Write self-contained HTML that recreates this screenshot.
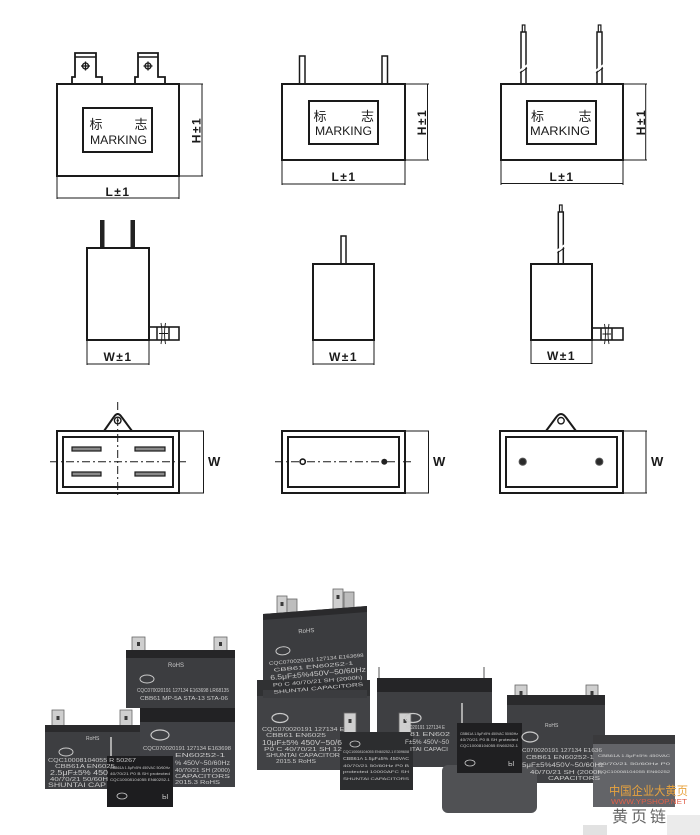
<!DOCTYPE html>
<html>
<head>
<meta charset="utf-8">
<style>
html,body{margin:0;padding:0;background:#fff;}
svg{display:block;}
.f{font-family:"Liberation Sans","Noto Sans CJK SC",sans-serif;}
.cj{font-family:"Liberation Sans","Noto Sans CJK SC",sans-serif;}
</style>
</head>
<body>
<svg width="700" height="835" viewBox="0 0 700 835" xmlns="http://www.w3.org/2000/svg" class="f">
<rect width="700" height="835" fill="#fff"/>

<!-- ===== Row 1 ===== -->
<g stroke="#1a1a1a" fill="none">
  <path d="M72,84 V77 H75 V53 H96 V77 H102 V84" stroke-width="1.8" fill="#fff"/>
  <line x1="75" y1="57" x2="96" y2="57" stroke-width="1.5"/>
  <circle cx="85.5" cy="66" r="3" stroke-width="1.3"/>
  <line x1="81" y1="66" x2="90" y2="66" stroke-width="1.3"/>
  <line x1="85.5" y1="61.5" x2="85.5" y2="70.5" stroke-width="1.3"/>
  <path d="M135,84 V77 H138 V53 H158 V77 H165 V84" stroke-width="1.8" fill="#fff"/>
  <line x1="138" y1="57" x2="158" y2="57" stroke-width="1.5"/>
  <circle cx="148" cy="66" r="3" stroke-width="1.3"/>
  <line x1="143.5" y1="66" x2="152.5" y2="66" stroke-width="1.3"/>
  <line x1="148" y1="61.5" x2="148" y2="70.5" stroke-width="1.3"/>
  <rect x="57" y="84" width="122" height="92" stroke-width="2"/>
  <rect x="83" y="108" width="69" height="44" stroke-width="2"/>
  <path d="M179,84 H203 M179,176 H203 M202,84 V176" stroke-width="1"/>
  <path d="M57,176 V199 M179,176 V199 M57,198 H179" stroke-width="1"/>

  <rect x="299.5" y="56" width="5.5" height="28" stroke-width="1.5" fill="#fff"/>
  <rect x="382" y="56" width="5.5" height="28" stroke-width="1.5" fill="#fff"/>
  <rect x="282" y="84" width="123" height="76" stroke-width="2"/>
  <rect x="309" y="101" width="69" height="43" stroke-width="2"/>
  <path d="M405,84 H429 M405,160 H429 M427.5,84 V160" stroke-width="1"/>
  <path d="M282,160 V185 M405,160 V185 M282,184 H405" stroke-width="1"/>

  <rect x="522.3" y="25" width="2.6" height="8" stroke-width="1.2" fill="#fff"/>
  <rect x="521" y="32" width="5" height="52" stroke-width="1.5" fill="#fff"/>
  <rect x="598.3" y="25" width="2.6" height="8" stroke-width="1.2" fill="#fff"/>
  <rect x="597" y="32" width="5" height="52" stroke-width="1.5" fill="#fff"/>
  <rect x="501" y="84" width="122" height="76" stroke-width="2"/>
  <rect x="527" y="101" width="69" height="43" stroke-width="2"/>
  <path d="M623,84 H647 M623,160 H647 M645.7,84 V160" stroke-width="1"/>
  <path d="M501,160 V185 M623,160 V185 M501,183.5 H623" stroke-width="1"/>
</g>
<g stroke="#fff" stroke-width="2">
  <line x1="519.5" y1="71" x2="527.5" y2="65"/>
  <line x1="595.5" y1="71" x2="603.5" y2="65"/>
</g>
<g stroke="#1a1a1a" stroke-width="1">
  <line x1="520" y1="73" x2="527" y2="68"/>
  <line x1="596" y1="73" x2="603" y2="68"/>
</g>

<g fill="#1a1a1a">
  <text class="cj" x="96" y="129" font-size="13" text-anchor="middle">标</text>
  <text class="cj" x="141" y="129" font-size="13" text-anchor="middle">志</text>
  <text x="90" y="144" font-size="11.5" textLength="57" lengthAdjust="spacingAndGlyphs">MARKING</text>

  <text class="cj" x="320" y="121" font-size="13" text-anchor="middle">标</text>
  <text class="cj" x="367.5" y="121" font-size="13" text-anchor="middle">志</text>
  <text x="315" y="135" font-size="11.5" textLength="57" lengthAdjust="spacingAndGlyphs">MARKING</text>

  <text class="cj" x="537.5" y="121" font-size="13" text-anchor="middle">标</text>
  <text class="cj" x="585" y="121" font-size="13" text-anchor="middle">志</text>
  <text x="530" y="135" font-size="11.5" textLength="60" lengthAdjust="spacingAndGlyphs">MARKING</text>

  <text x="118" y="196" font-size="12" font-weight="bold" text-anchor="middle" letter-spacing="1.5">L±1</text>
  <text x="344" y="181" font-size="12" font-weight="bold" text-anchor="middle" letter-spacing="1.5">L±1</text>
  <text x="562" y="181" font-size="12" font-weight="bold" text-anchor="middle" letter-spacing="1.5">L±1</text>

  <text transform="translate(200.5,130) rotate(-90)" font-size="12" font-weight="bold" text-anchor="middle" letter-spacing="1.5">H±1</text>
  <text transform="translate(426,122) rotate(-90)" font-size="12" font-weight="bold" text-anchor="middle" letter-spacing="1.5">H±1</text>
  <text transform="translate(645,122) rotate(-90)" font-size="12" font-weight="bold" text-anchor="middle" letter-spacing="1.5">H±1</text>
</g>

<!-- ===== Row 2 ===== -->
<g stroke="#1a1a1a" fill="none">
  <rect x="100" y="220" width="4.5" height="28" fill="#222" stroke="none"/>
  <rect x="130.5" y="220" width="4.5" height="28" fill="#222" stroke="none"/>
  <rect x="87" y="248" width="62" height="92" stroke-width="2"/>
  <rect x="149" y="327" width="30" height="13" stroke-width="1.6"/>
  <line x1="157" y1="327" x2="157" y2="340" stroke-width="1.5"/>
  <line x1="169" y1="327" x2="169" y2="340" stroke-width="1.5"/>
  <path d="M161,323 Q163,333.5 161,344 M165.5,323 Q163.5,333.5 165.5,344 M159,333.5 H168" stroke-width="0.9"/>
  <path d="M87,340 V365 M149,340 V365 M87,364 H149" stroke-width="1"/>

  <rect x="341" y="236" width="5" height="28" stroke-width="1.5" fill="#fff"/>
  <rect x="313" y="264" width="61" height="76" stroke-width="2"/>
  <path d="M313,340 V365 M374,340 V365 M313,364 H374" stroke-width="1"/>

  <rect x="559.5" y="205" width="2.6" height="8" stroke-width="1.2" fill="#fff"/>
  <rect x="558.3" y="212" width="5" height="52" stroke-width="1.5" fill="#fff"/>
  <rect x="531" y="264" width="61" height="76" stroke-width="2"/>
  <rect x="592" y="328" width="31" height="12" stroke-width="1.6"/>
  <line x1="601" y1="328" x2="601" y2="340" stroke-width="1.5"/>
  <line x1="612" y1="328" x2="612" y2="340" stroke-width="1.5"/>
  <path d="M604.5,324 Q606.5,334 604.5,344 M609,324 Q607,334 609,344 M602.5,334 H611" stroke-width="0.9"/>
  <path d="M531,340 V364 M592,340 V364 M531,363.5 H592" stroke-width="1"/>
</g>
<line x1="556.8" y1="251" x2="564.8" y2="245" stroke="#fff" stroke-width="2"/>
<line x1="557.3" y1="253" x2="564.3" y2="248" stroke="#1a1a1a" stroke-width="1"/>

<g fill="#1a1a1a">
  <text x="118" y="361" font-size="12" font-weight="bold" text-anchor="middle" letter-spacing="1.5">W±1</text>
  <text x="343.5" y="361" font-size="12" font-weight="bold" text-anchor="middle" letter-spacing="1.5">W±1</text>
  <text x="561.5" y="360" font-size="12" font-weight="bold" text-anchor="middle" letter-spacing="1.5">W±1</text>
</g>

<!-- ===== Row 3 ===== -->
<g stroke="#1a1a1a" fill="none">
  <path d="M104,431 L113.5,417.5 Q117.7,410.5 122,417.5 L132,431" stroke-width="2" fill="#fff"/>
  <circle cx="117.7" cy="420.5" r="3.3" stroke-width="1.4"/>
  <circle cx="117.7" cy="420.5" r="1.2" fill="#1a1a1a" stroke="none"/>
  <rect x="57" y="431" width="122" height="62" stroke-width="2"/>
  <rect x="63" y="437" width="110" height="50" stroke-width="2"/>
  <rect x="72" y="447" width="29" height="4" fill="#8a8a8a" stroke-width="1.2"/>
  <rect x="135" y="447" width="30" height="4" fill="#8a8a8a" stroke-width="1.2"/>
  <rect x="72" y="472" width="29" height="4" fill="#8a8a8a" stroke-width="1.2"/>
  <rect x="135" y="472" width="30" height="4" fill="#8a8a8a" stroke-width="1.2"/>
  <line x1="50" y1="461.7" x2="187" y2="461.7" stroke-width="1" stroke-dasharray="8,3,2,3"/>
  <line x1="117.7" y1="402" x2="117.7" y2="496" stroke-width="1" stroke-dasharray="8,3,2,3"/>
  <path d="M179,431 H204 M179,493 H204 M203.5,431 V493" stroke-width="1"/>

  <rect x="282" y="431" width="123" height="62" stroke-width="2"/>
  <rect x="288" y="437" width="111" height="50" stroke-width="2"/>
  <line x1="275" y1="461.7" x2="413" y2="461.7" stroke-width="1" stroke-dasharray="8,3,2,3"/>
  <circle cx="302.7" cy="461.7" r="2.6" stroke-width="1.6" fill="#fff"/>
  <circle cx="384.3" cy="461.7" r="3" fill="#222" stroke="none"/>
  <path d="M405,431 H429 M405,493 H429 M428.5,431 V493" stroke-width="1"/>

  <path d="M546,431 L556,417.5 Q561,410.5 566,417.5 L576,431" stroke-width="2" fill="#fff"/>
  <circle cx="561" cy="420.7" r="3.2" stroke-width="1.4"/>
  <rect x="500" y="431" width="123" height="62" stroke-width="2"/>
  <rect x="506" y="437" width="111" height="50" stroke-width="2"/>
  <circle cx="522.7" cy="461.7" r="3.6" fill="#2a2a2a" stroke="#555" stroke-width="1"/>
  <circle cx="599.3" cy="461.7" r="3.6" fill="#2a2a2a" stroke="#555" stroke-width="1"/>
  <path d="M623,431 H647 M623,493 H647 M646,431 V493" stroke-width="1"/>
</g>
<g fill="#1a1a1a" font-size="13" font-weight="bold">
  <text x="208" y="466">W</text>
  <text x="433" y="466">W</text>
  <text x="651" y="466">W</text>
</g>

<!-- ===== Photo ===== -->
<g>
  <!-- E tall back -->
  <rect x="277" y="596" width="10" height="20" fill="#cfcfcf" stroke="#666" stroke-width="0.8"/>
  <rect x="287" y="599" width="10" height="20" fill="#bdbdbd" stroke="#666" stroke-width="0.8"/>
  <rect x="333" y="589" width="10" height="20" fill="#cfcfcf" stroke="#666" stroke-width="0.8"/>
  <rect x="344" y="592" width="10" height="20" fill="#bdbdbd" stroke="#666" stroke-width="0.8"/>
  <polygon points="263,614 367,606 367,698 263,698" fill="#3b3c3f"/>
  <polygon points="263,614 367,606 367,612 263,620" fill="#2a2a2c"/>
  <!-- A back-left -->
  <rect x="132" y="637" width="13" height="18" fill="#cfcfcf" stroke="#666" stroke-width="0.8"/>
  <rect x="214" y="637" width="13" height="18" fill="#cfcfcf" stroke="#666" stroke-width="0.8"/>
  <rect x="126" y="650" width="109" height="58" fill="#3c3d40"/>
  <rect x="126" y="650" width="109" height="8" fill="#252527"/>
  <!-- F big center -->
  <rect x="257" y="680" width="113" height="90" fill="#414245"/>
  <rect x="257" y="680" width="113" height="16" fill="#303133"/>
  <rect x="263" y="690" width="104" height="8" fill="#3b3c3f"/>
  <!-- G -->
  <rect x="378" y="667" width="2" height="14" fill="#aaa"/>
  <rect x="483" y="667" width="2" height="14" fill="#aaa"/>
  <rect x="377" y="678" width="115" height="89" fill="#3e3f42"/>
  <rect x="377" y="678" width="115" height="14" fill="#252527"/>
  <!-- K -->
  <rect x="515" y="685" width="12" height="22" fill="#cfcfcf" stroke="#666" stroke-width="0.8"/>
  <rect x="586" y="685" width="12" height="22" fill="#cfcfcf" stroke="#666" stroke-width="0.8"/>
  <rect x="507" y="697" width="98" height="86" fill="#3f4043"/>
  <rect x="507" y="695" width="98" height="10" fill="#2a2a2c"/>
  <!-- C -->
  <rect x="140" y="708" width="95" height="79" fill="#404145"/>
  <rect x="140" y="708" width="95" height="14" fill="#222224"/>
  <!-- B -->
  <rect x="52" y="710" width="12" height="20" fill="#cfcfcf" stroke="#666" stroke-width="0.8"/>
  <rect x="120" y="710" width="12" height="20" fill="#cfcfcf" stroke="#666" stroke-width="0.8"/>
  <rect x="45" y="727" width="95" height="62" fill="#3d3e41"/>
  <rect x="45" y="725" width="95" height="7" fill="#2a2a2c"/>
  <!-- H -->
  <rect x="344" y="713" width="12" height="22" fill="#cfcfcf" stroke="#666" stroke-width="0.8"/>
  <rect x="399" y="713" width="12" height="22" fill="#cfcfcf" stroke="#666" stroke-width="0.8"/>
  <rect x="340" y="732" width="73" height="58" fill="#2c2d2f"/>
  <!-- L right gray -->
  <rect x="593" y="737" width="82" height="70" fill="#636468"/>
  <rect x="593" y="735" width="82" height="9" fill="#3a3a3c"/>
  <!-- J gray flat -->
  <rect x="442" y="765" width="95" height="48" rx="6" fill="#505154"/>
  <!-- I small black -->
  <rect x="461" y="703" width="2" height="22" fill="#aaa"/>
  <rect x="457" y="723" width="65" height="50" fill="#1f1f21"/>
  <!-- D small black -->
  <rect x="110" y="737" width="2" height="20" fill="#aaa"/>
  <rect x="107" y="756" width="66" height="51" fill="#1d1d1f"/>
  <!-- terminal holes -->
  <g fill="#3a3a3a">
    <rect x="280.5" y="602" width="3" height="4"/>
    <rect x="336.5" y="595" width="3" height="4"/>
    <rect x="137" y="642" width="3" height="4"/>
    <rect x="219" y="642" width="3" height="4"/>
    <rect x="519.5" y="691" width="3" height="4"/>
    <rect x="590.5" y="691" width="3" height="4"/>
    <rect x="56.5" y="716" width="3" height="4"/>
    <rect x="124.5" y="716" width="3" height="4"/>
    <rect x="348.5" y="719" width="3" height="4"/>
    <rect x="403.5" y="719" width="3" height="4"/>
  </g>
</g>

<!-- photo label texts -->
<g fill="#c9c9c9" font-size="5">
  <g transform="rotate(-5 315 650)">
    <text x="300" y="632" font-size="6">RoHS</text>
    <ellipse cx="283" cy="648" rx="7" ry="4" fill="none" stroke="#c9c9c9" stroke-width="1"/>
    <text x="268" y="661" textLength="95" lengthAdjust="spacingAndGlyphs">CQC070020191 127134 E163698</text>
    <text x="272" y="668" textLength="80" lengthAdjust="spacingAndGlyphs">CBB61     EN60252-1</text>
    <text x="268" y="676" font-size="7" textLength="96" lengthAdjust="spacingAndGlyphs">6.5μF±5%450V~50/60Hz</text>
    <text x="270" y="683" textLength="90" lengthAdjust="spacingAndGlyphs">P0 C 40/70/21 SH (2000h)</text>
    <text x="270" y="690" textLength="90" lengthAdjust="spacingAndGlyphs">SHUNTAI   CAPACITORS</text>
  </g>
  <text x="168" y="667" font-size="6">RoHS</text>
  <ellipse cx="147" cy="679" rx="7" ry="4" fill="none" stroke="#c9c9c9" stroke-width="1"/>
  <text x="137" y="692" textLength="92" lengthAdjust="spacingAndGlyphs">CQC070020191 127134 E163698 LR68135</text>
  <text x="140" y="700" textLength="88" lengthAdjust="spacingAndGlyphs">CBB61   MP-5A  STA-13  STA-06</text>
  <ellipse cx="160" cy="735" rx="9" ry="5" fill="none" stroke="#c9c9c9" stroke-width="1.2"/>
  <text x="143" y="750" textLength="88" lengthAdjust="spacingAndGlyphs">CQC070020191 127134  E163698</text>
  <text x="175" y="757" textLength="50" lengthAdjust="spacingAndGlyphs">EN60252-1</text>
  <text x="175" y="765" font-size="6" textLength="55" lengthAdjust="spacingAndGlyphs">% 450V~50/60Hz</text>
  <text x="175" y="772" textLength="55" lengthAdjust="spacingAndGlyphs">40/70/21   SH (2000)</text>
  <text x="175" y="778" textLength="55" lengthAdjust="spacingAndGlyphs">CAPACITORS</text>
  <text x="175" y="784" textLength="45" lengthAdjust="spacingAndGlyphs">2015.3  RoHS</text>
  <text x="86" y="740" font-size="5">RoHS</text>
  <ellipse cx="66" cy="752" rx="7" ry="4" fill="none" stroke="#c9c9c9" stroke-width="1"/>
  <text x="48" y="762" textLength="88" lengthAdjust="spacingAndGlyphs">CQC10008104055 R 50267</text>
  <text x="55" y="768" textLength="60" lengthAdjust="spacingAndGlyphs">CBB61A    EN6025</text>
  <text x="50" y="775" font-size="7" textLength="58" lengthAdjust="spacingAndGlyphs">2.5μF±5%  450</text>
  <text x="50" y="781" textLength="58" lengthAdjust="spacingAndGlyphs">40/70/21   50/60H</text>
  <text x="48" y="787" font-size="6" textLength="58" lengthAdjust="spacingAndGlyphs">SHUNTAI   CAP</text>
  <ellipse cx="280" cy="718" rx="8" ry="4.5" fill="none" stroke="#c9c9c9" stroke-width="1.2"/>
  <text x="262" y="731" textLength="86" lengthAdjust="spacingAndGlyphs">CQC070020191 127134 E1</text>
  <text x="266" y="737" textLength="60" lengthAdjust="spacingAndGlyphs">CBB61     EN6025</text>
  <text x="262" y="745" font-size="7" textLength="80" lengthAdjust="spacingAndGlyphs">10μF±5% 450V~50/6</text>
  <text x="264" y="751" textLength="78" lengthAdjust="spacingAndGlyphs">P0 C 40/70/21  SH  12</text>
  <text x="266" y="757" textLength="74" lengthAdjust="spacingAndGlyphs">SHUNTAI   CAPACITOR</text>
  <text x="276" y="763" textLength="40" lengthAdjust="spacingAndGlyphs">2015.5  RoHS</text>
  <ellipse cx="413" cy="718" rx="8" ry="4.5" fill="none" stroke="#c9c9c9" stroke-width="1.2"/>
  <text x="405" y="729" textLength="40" lengthAdjust="spacingAndGlyphs">70020191 127134 E</text>
  <text x="410" y="736" textLength="40" lengthAdjust="spacingAndGlyphs">81    EN602</text>
  <text x="405" y="744" font-size="6" textLength="44" lengthAdjust="spacingAndGlyphs">F±5% 450V~50</text>
  <text x="410" y="751" textLength="38" lengthAdjust="spacingAndGlyphs">ITAI   CAPACI</text>
  <text x="545" y="727" font-size="5">RoHS</text>
  <ellipse cx="530" cy="737" rx="8" ry="5" fill="none" stroke="#c9c9c9" stroke-width="1.2"/>
  <text x="522" y="752" textLength="80" lengthAdjust="spacingAndGlyphs">C070020191 127134  E1636</text>
  <text x="526" y="759" textLength="68" lengthAdjust="spacingAndGlyphs">CBB61      EN60252-1</text>
  <text x="522" y="767" font-size="6" textLength="82" lengthAdjust="spacingAndGlyphs">5μF±5%450V~50/60Hz</text>
  <text x="530" y="774" textLength="72" lengthAdjust="spacingAndGlyphs">40/70/21  SH (2000h</text>
  <text x="548" y="780" textLength="52" lengthAdjust="spacingAndGlyphs">CAPACITORS</text>
  <ellipse cx="355" cy="744" rx="5" ry="3" fill="none" stroke="#c9c9c9" stroke-width="0.8"/>
  <text x="343" y="753" font-size="4" textLength="66" lengthAdjust="spacingAndGlyphs">CQC10008104055 EN60252-1 E309608</text>
  <text x="343" y="760" font-size="4.5" textLength="66" lengthAdjust="spacingAndGlyphs">CBB61A 1.5μF±5% 450VAC</text>
  <text x="343" y="767" font-size="4" textLength="66" lengthAdjust="spacingAndGlyphs">40/70/21  50/60Hz  P0  B</text>
  <text x="343" y="773" font-size="4" textLength="66" lengthAdjust="spacingAndGlyphs">protected  10000AFC   SH</text>
  <text x="343" y="780" font-size="4" textLength="66" lengthAdjust="spacingAndGlyphs">SHUNTAI    CAPACITORS</text>
  <text x="110" y="769" font-size="3.5" textLength="60" lengthAdjust="spacingAndGlyphs">CBB61A 1.5μF±5% 450VAC 50/60Hz</text>
  <text x="110" y="775" font-size="3.5" textLength="60" lengthAdjust="spacingAndGlyphs">40/70/21 P0 B SH protected</text>
  <text x="110" y="781" font-size="3.5" textLength="60" lengthAdjust="spacingAndGlyphs">CQC10008104055 EN60252-1</text>
  <ellipse cx="122" cy="796" rx="5" ry="3" fill="none" stroke="#c9c9c9" stroke-width="0.8"/>
  <text x="162" y="799" font-size="7">Ы</text>
  <text x="460" y="735" font-size="3.5" textLength="58" lengthAdjust="spacingAndGlyphs">CBB61A 1.5μF±5% 450VAC 50/60Hz</text>
  <text x="460" y="741" font-size="3.5" textLength="58" lengthAdjust="spacingAndGlyphs">40/70/21 P0 B SH protected</text>
  <text x="460" y="747" font-size="3.5" textLength="58" lengthAdjust="spacingAndGlyphs">CQC10008104055 EN60252-1</text>
  <ellipse cx="470" cy="763" rx="5" ry="3" fill="none" stroke="#c9c9c9" stroke-width="0.8"/>
  <text x="508" y="766" font-size="7">Ы</text>
  <text x="598" y="757" font-size="4" fill="#d8d8d8" textLength="72" lengthAdjust="spacingAndGlyphs">CBB61A 1.5μF±5%  450VAC</text>
  <text x="598" y="765" font-size="4" fill="#d8d8d8" textLength="72" lengthAdjust="spacingAndGlyphs">40/70/21  50/60Hz  P0</text>
  <text x="598" y="773" font-size="4" fill="#d8d8d8" textLength="72" lengthAdjust="spacingAndGlyphs">CQC10008104055 EN60252</text>
</g>

<!-- watermark -->
<g>
  <text class="cj" x="609" y="795" font-size="12" fill="#e8a33e" textLength="79" lengthAdjust="spacingAndGlyphs">中国企业大黄页</text>
  <text x="611" y="804" font-size="7.5" fill="#e0604a" textLength="76" lengthAdjust="spacingAndGlyphs">WWW.YPSHOP.NET</text>
  <text class="cj" x="612" y="822" font-size="16" fill="#666" letter-spacing="3">黄页链</text>
  <rect x="583" y="825" width="24" height="10" fill="#e2e2e2"/>
  <rect x="667" y="815" width="33" height="20" fill="#ebebeb"/>
</g>
</svg>
</body>
</html>
